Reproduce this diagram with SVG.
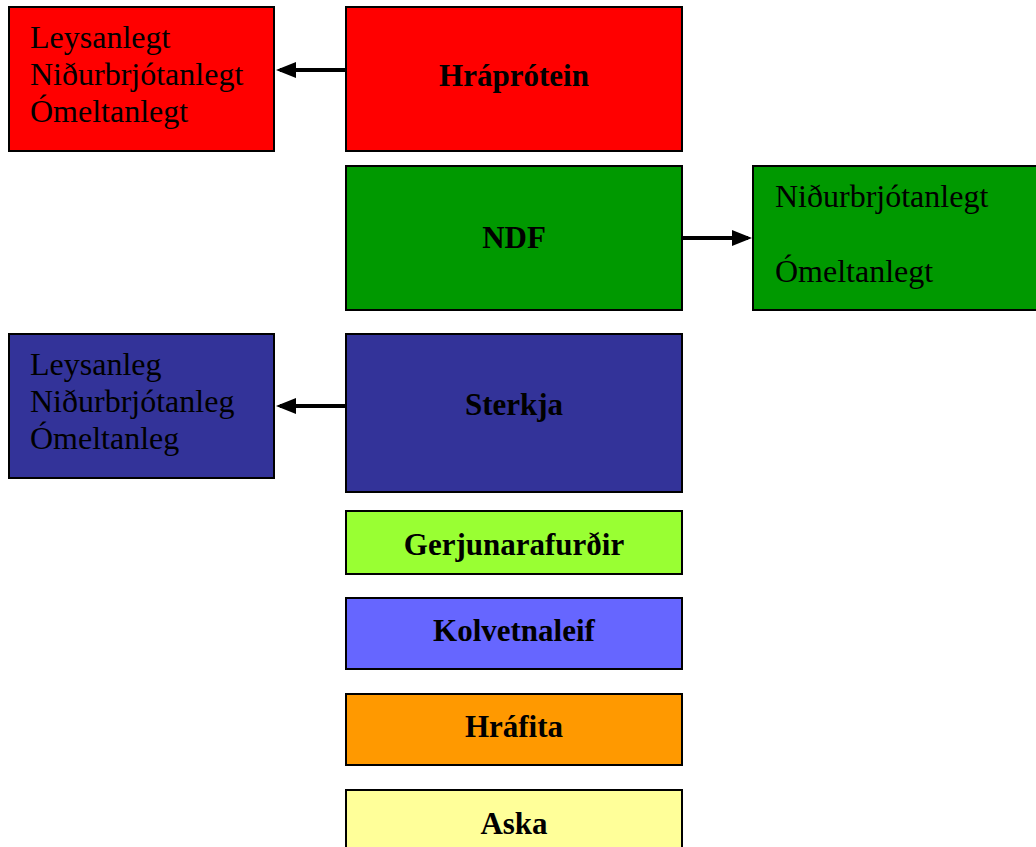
<svg xmlns="http://www.w3.org/2000/svg" width="1036" height="847" viewBox="0 0 1036 847">
<style>
.box{stroke:#000;stroke-width:2}
.t{font-family:"Liberation Serif","Times New Roman",serif;font-size:32px;fill:#000}
.b{font-weight:bold;text-anchor:middle;font-size:31px}
.c{stroke:#000;stroke-width:4;fill:none}
</style>
<defs>
<marker id="ah" markerWidth="5" markerHeight="4" refX="4" refY="2" orient="auto" markerUnits="strokeWidth">
<path d="M0,0 L5,2 L0,4 z" fill="#000"/>
</marker>
</defs>
<rect width="1036" height="847" fill="#fff"/>
<g id="connectors">
<line class="c" x1="346" y1="70" x2="280" y2="70" marker-end="url(#ah)"/>
<line class="c" x1="682" y1="238" x2="748" y2="238" marker-end="url(#ah)"/>
<line class="c" x1="346" y1="406" x2="280" y2="406" marker-end="url(#ah)"/>
</g>
<g id="protein-parts">
<rect class="box" x="9" y="7" width="265" height="144" fill="#FF0000"/>
<text class="t" x="30" y="48">Leysanlegt</text>
<text class="t" x="30" y="85">Niðurbrjótanlegt</text>
<text class="t" x="30" y="122">Ómeltanlegt</text>
</g>
<g id="hraprotein">
<rect class="box" x="346" y="7" width="336" height="144" fill="#FF0000"/>
<text class="t b" x="514" y="86">Hráprótein</text>
</g>
<g id="ndf">
<rect class="box" x="346" y="166" width="336" height="144" fill="#009900"/>
<text class="t b" x="514" y="248">NDF</text>
</g>
<g id="ndf-parts">
<rect class="box" x="753" y="166" width="290" height="144" fill="#009900"/>
<text class="t" x="775" y="207">Niðurbrjótanlegt</text>
<text class="t" x="775" y="282">Ómeltanlegt</text>
</g>
<g id="sterkja-parts">
<rect class="box" x="9" y="334" width="265" height="144" fill="#333399"/>
<text class="t" x="30" y="375">Leysanleg</text>
<text class="t" x="30" y="412">Niðurbrjótanleg</text>
<text class="t" x="30" y="449">Ómeltanleg</text>
</g>
<g id="sterkja">
<rect class="box" x="346" y="334" width="336" height="158" fill="#333399"/>
<text class="t b" x="514" y="415">Sterkja</text>
</g>
<g id="gerjunarafurdir">
<rect class="box" x="346" y="511" width="336" height="63" fill="#99FF33"/>
<text class="t b" x="514" y="555">Gerjunarafurðir</text>
</g>
<g id="kolvetnaleif">
<rect class="box" x="346" y="598" width="336" height="71" fill="#6666FF"/>
<text class="t b" x="514" y="641">Kolvetnaleif</text>
</g>
<g id="hrafita">
<rect class="box" x="346" y="694" width="336" height="71" fill="#FF9900"/>
<text class="t b" x="514" y="737">Hráfita</text>
</g>
<g id="aska">
<rect class="box" x="346" y="790" width="336" height="70" fill="#FFFF99"/>
<text class="t b" x="514" y="834">Aska</text>
</g>
</svg>
